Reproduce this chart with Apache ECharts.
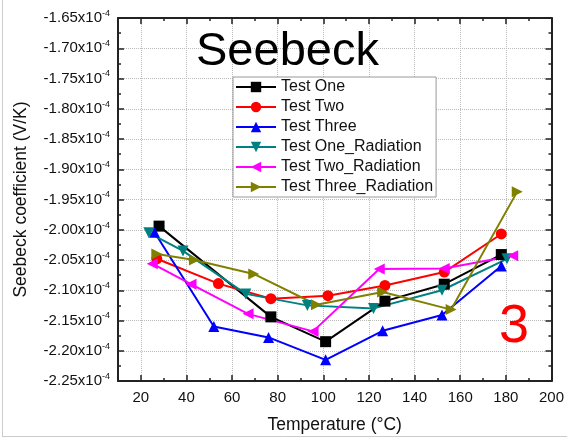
<!DOCTYPE html>
<html>
<head>
<meta charset="utf-8">
<script src="https://cdn.jsdelivr.net/npm/echarts@6/dist/echarts.min.js"></script>
<style>
  html, body { margin: 0; padding: 0; background: #fff; }
  #chart { width: 567px; height: 439px; }
</style>
</head>
<body>
<div id="chart"></div>
<script>
// values in units of 1e-4 V/K
const tempOne = [28, 77, 101, 127, 153, 178];
const testOne = [-1.994, -2.144, -2.185, -2.118, -2.090, -2.041];

const tempTwo = [27, 54, 77, 102, 127, 153, 178];
const testTwo = [-2.048, -2.089, -2.114, -2.109, -2.092, -2.070, -2.007];

const tempThree = [26, 52, 76, 101, 126, 152, 178];
const testThree = [-2.004, -2.160, -2.178, -2.215, -2.167, -2.141, -2.060];

const tempOneRad = [23.5, 38.5, 66, 93, 122, 152, 180.5];
const testOneRad = [-2.005, -2.035, -2.106, -2.125, -2.130, -2.100, -2.048];

const tempTwoRad = [25, 42, 67, 95.5, 124.5, 153, 183];
const testTwoRad = [-2.056, -2.090, -2.139, -2.168, -2.065, -2.064, -2.043];

const tempThreeRad = [27, 43.5, 69.5, 97, 126, 156, 185];
const testThreeRad = [-2.040, -2.050, -2.073, -2.124, -2.103, -2.132, -1.937];

const xMajor = [20, 40, 60, 80, 100, 120, 140, 160, 180, 200];

const font = '"Liberation Sans", Arial, sans-serif';
const axisColor = '#222';
const gridColor = '#bbb';

const pairs = (xs, ys) => xs.map((x, i) => [x, ys[i]]);

const makeSeries = (name, xs, ys, color, symbol, rotate) => ({
    name,
    type: 'line',
    data: pairs(xs, ys),
    symbol,
    symbolRotate: rotate,
    symbolSize: 11,
    itemStyle: { color },
    lineStyle: { color, width: 2 },
    silent: true,
    animation: false,
});

const chart = echarts.init(document.getElementById('chart'));

// minor ticks every 10, drawn on the bottom and top frame
const minorX = (position) => ({
    type: 'value',
    position,
    min: 10,
    max: 200,
    interval: 10,
    axisLine: { show: position === 'top', onZero: false, lineStyle: { color: axisColor, width: 2 } },
    axisTick: { show: true, inside: true, length: 3, lineStyle: { color: axisColor, width: 1.5 } },
    axisLabel: { show: false },
    splitLine: { show: false },
});

const option = {
    animation: false,
    textStyle: { fontFamily: font },
    title: [
        {
            text: 'Seebeck',
            left: 196,
            top: 29,
            padding: 0,
            textStyle: { fontFamily: font, fontSize: 47, fontWeight: 'normal', color: '#000' },
        },
        {
            text: '3',
            left: 499,
            top: 300,
            padding: 0,
            textStyle: { fontFamily: font, fontSize: 54, fontWeight: 'normal', color: '#ff0000' },
        },
    ],
    legend: {
        orient: 'vertical',
        left: 233,
        top: 77,
        padding: [2, 3, 2, 2],
        itemWidth: 40,
        itemHeight: 13,
        itemGap: 4,
        backgroundColor: '#fff',
        borderColor: '#999',
        borderWidth: 1,
        textStyle: { fontFamily: font, fontSize: 16, color: '#111' },
        data: ['Test One', 'Test Two', 'Test Three', 'Test One_Radiation', 'Test Two_Radiation', 'Test Three_Radiation'],
    },
    grid: { left: 118, right: 7, top: 18, bottom: 54 },
    xAxis: [
        {
            type: 'value',
            position: 'bottom',
            min: 10,
            max: 200,
            name: 'Temperature (°C)',
            nameLocation: 'middle',
            nameGap: 35,
            nameTextStyle: { fontFamily: font, fontSize: 17.5, color: '#111' },
            axisLine: { show: true, onZero: false, lineStyle: { color: axisColor, width: 2 } },
            axisTick: { show: true, inside: true, length: 6, customValues: xMajor, lineStyle: { color: axisColor, width: 1.5 } },
            axisLabel: { show: true, margin: 9, customValues: xMajor, fontSize: 15, color: '#111', fontFamily: font },
            splitLine: { show: true, lineStyle: { color: gridColor, type: 'dotted', width: 1 } },
        },
        minorX('bottom'),
        minorX('top'),
        {
            type: 'value',
            position: 'top',
            min: 10,
            max: 200,
            axisLine: { show: false },
            axisTick: { show: true, inside: true, length: 6, customValues: xMajor, lineStyle: { color: axisColor, width: 1.5 } },
            axisLabel: { show: false },
            splitLine: { show: false },
        },
    ],
    yAxis: [
        {
            type: 'value',
            position: 'left',
            min: -2.25,
            max: -1.65,
            interval: 0.05,
            name: 'Seebeck coefficient (V/K)',
            nameLocation: 'middle',
            nameGap: 88,
            nameTextStyle: { fontFamily: font, fontSize: 17.5, color: '#111' },
            axisLine: { show: true, onZero: false, lineStyle: { color: axisColor, width: 2 } },
            axisTick: { show: true, inside: true, length: 6, lineStyle: { color: axisColor, width: 1.5 } },
            minorTick: { show: true, splitNumber: 2, length: 3, lineStyle: { color: axisColor, width: 1.5 } },
            axisLabel: {
                margin: 8,
                formatter: (v) => '{a|' + v.toFixed(2) + 'x10}{b|-4}',
                rich: {
                    a: { fontFamily: font, fontSize: 15, color: '#111', lineHeight: 18 },
                    b: { fontFamily: font, fontSize: 9, color: '#111', verticalAlign: 'top', lineHeight: 9 },
                },
            },
            splitLine: { show: true, lineStyle: { color: gridColor, type: 'dotted', width: 1 } },
        },
        {
            type: 'value',
            position: 'right',
            min: -2.25,
            max: -1.65,
            interval: 0.05,
            axisLine: { show: true, onZero: false, lineStyle: { color: axisColor, width: 2 } },
            axisTick: { show: true, inside: true, length: 6, lineStyle: { color: axisColor, width: 1.5 } },
            minorTick: { show: true, splitNumber: 2, length: 3, lineStyle: { color: axisColor, width: 1.5 } },
            axisLabel: { show: false },
            splitLine: { show: false },
        },
    ],
    graphic: [
        { type: 'line', shape: { x1: 2.5, y1: 0, x2: 2.5, y2: 437 }, style: { stroke: '#ccc', lineWidth: 1 }, silent: true },
        { type: 'line', shape: { x1: 2.5, y1: 436.5, x2: 567, y2: 436.5 }, style: { stroke: '#ccc', lineWidth: 1 }, silent: true },
    ],
    series: [
        makeSeries('Test One', tempOne, testOne, '#000000', 'rect', 0),
        makeSeries('Test Two', tempTwo, testTwo, '#ff0000', 'circle', 0),
        makeSeries('Test Three', tempThree, testThree, '#0000ff', 'triangle', 0),
        makeSeries('Test One_Radiation', tempOneRad, testOneRad, '#008080', 'triangle', 180),
        makeSeries('Test Two_Radiation', tempTwoRad, testTwoRad, '#ff00ff', 'triangle', 90),
        makeSeries('Test Three_Radiation', tempThreeRad, testThreeRad, '#808000', 'triangle', -90),
    ],
};

chart.setOption(option);
</script>
</body>
</html>
